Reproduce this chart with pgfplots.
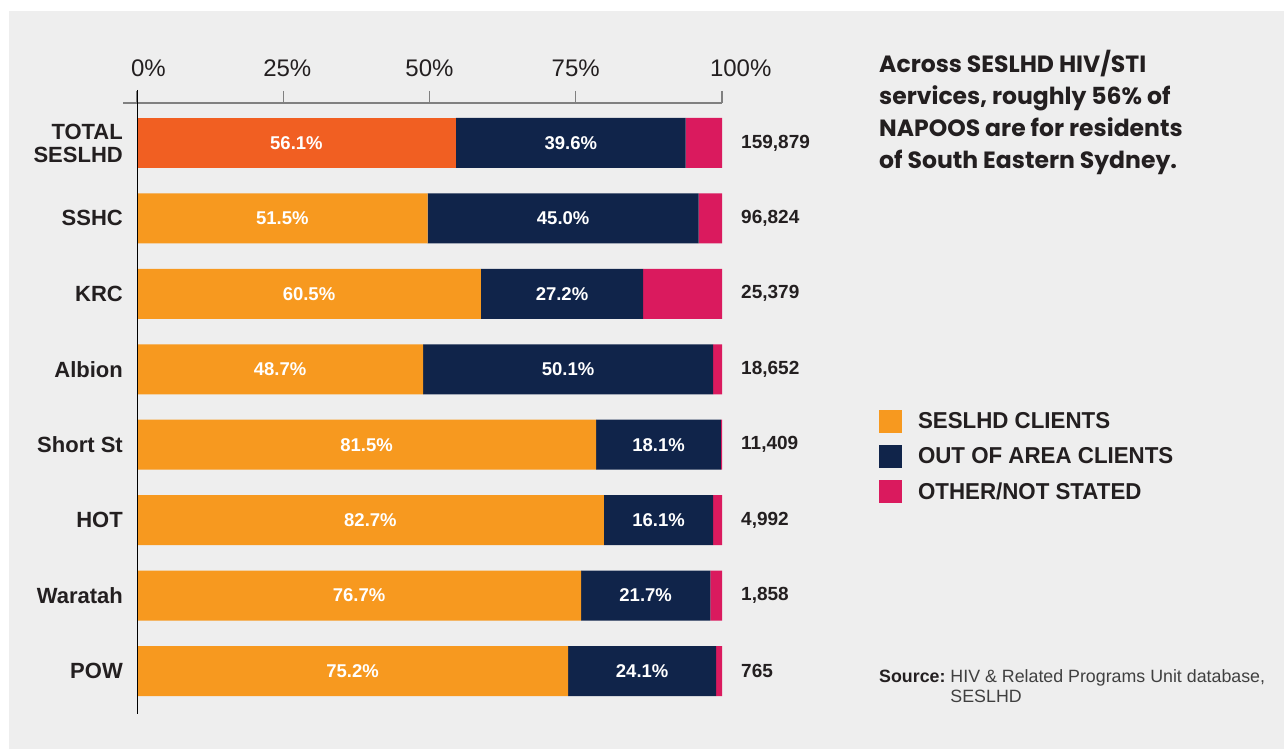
\documentclass[border=0pt]{standalone}
\usepackage{fontspec}
\setmainfont{Liberation Sans}
\newfontfamily\catfont{Liberation Sans}
\newfontfamily\legfont{Liberation Sans}[FakeStretch=0.97]
\newfontfamily\titlefont{Poppins}
\usepackage{pgfplots}
\usepackage{pgfplotstable}
\pgfplotsset{compat=1.18}
\definecolor{bg}{HTML}{EEEEEE}
\definecolor{orng}{HTML}{F7991F}
\definecolor{orred}{HTML}{F15F22}
\definecolor{navy}{HTML}{10244A}
\definecolor{pnk}{HTML}{DA1A5E}
\definecolor{txt}{HTML}{231F20}
\definecolor{axgray}{HTML}{808080}
\definecolor{srcgray}{HTML}{404040}

% y: 7 = TOTAL SESLHD ... 0 = POW ; a0/a/b/c = drawn segment lengths (%), la/lb = printed labels, n = count
\pgfplotstableread{
y a0 a b c la lb n
7 54.5 0 39.3 6.2 56.1 39.6 159,879
6 0 49.7 46.3 4.0 51.5 45.0 96,824
5 0 58.8 27.7 13.5 60.5 27.2 25,379
4 0 48.9 49.6 1.5 48.7 50.1 18,652
3 0 78.5 21.3 0.2 81.5 18.1 11,409
2 0 79.8 18.7 1.5 82.7 16.1 4,992
1 0 75.9 22.1 2.0 76.7 21.7 1,858
0 0 73.7 25.3 1.0 75.2 24.1 765
}\data

\pgfplotsset{
  sq legend/.style={legend image code/.code={\fill[##1] (0pt,-11.5pt) rectangle (23pt,11.5pt); \path (39pt,0pt);}},
  common/.style={at={(137pt,35pt)}, anchor=south west, scale only axis,
    width=585pt, height=611pt, xmin=0, xmax=100, ymin=-0.570, ymax=7.530},
  barlbl/.style={draw=none, mark=none, nodes near coords={\pgfplotspointmeta\%},
    point meta=explicit symbolic, nodes near coords align={anchor=center},
    every node near coord/.append style={anchor=center, inner sep=0pt, text=white,
      font=\bfseries\fontsize{18.5}{20}\selectfont}},
}

\begin{document}
\begin{tikzpicture}
\path[use as bounding box] (0pt,0pt) rectangle (1284pt,749pt);
\fill[white] (0pt,0pt) rectangle (1284pt,749pt);
\fill[bg] (9pt,0pt) rectangle (1284pt,738pt);

\begin{axis}[common,
  xbar stacked, bar width=50pt,
  axis x line*=top, axis y line*=left,
  x axis line style={draw=none}, y axis line style={draw=none},
  tick align=outside, major tick length=12pt,
  xtick={0,25,50,75,100},
  xticklabels={\makebox[0pt][l]{\hspace{-6pt}0\%},\makebox[0pt][l]{\hspace{-20pt}25\%},50\%,75\%,\makebox[0pt][l]{\hspace{-12pt}100\%}},
  x tick style={draw=axgray, line width=1.3pt},
  xticklabel style={font=\fontsize{24}{26}\selectfont, text=txt, inner sep=0pt, yshift=14pt},
  ytick={0,1,2,3,4,5,6,7},
  yticklabels={POW,Waratah,HOT,Short St,Albion,KRC,SSHC,{TOTAL\\[-2pt]SESLHD}},
  y tick style={draw=none},
  yticklabel style={align=right, font=\catfont\bfseries\fontsize{22}{25}\selectfont, text=txt, inner sep=0pt, xshift=-2pt},
  legend style={draw=none, fill=none, inner sep=0pt, outer sep=0pt,
    at={(axis description cs:1.2684,0.4975)}, anchor=north west,
    row sep=12pt, column sep=0pt,
    font=\legfont\bfseries\fontsize{23}{25}\selectfont, text=txt,
    nodes={inner sep=0pt}},
  legend cell align=left,
]
\addplot[fill=orred, draw=none, forget plot] table[x=a0, y=y]{\data};
\addplot[fill=orng, draw=none, sq legend] table[x=a, y=y]{\data};
\addplot[fill=navy, draw=none, sq legend] table[x=b, y=y]{\data};
\addplot[fill=pnk, draw=none, sq legend] table[x=c, y=y]{\data};
\legend{SESLHD CLIENTS, OUT OF AREA CLIENTS, OTHER/NOT STATED}
\end{axis}

\begin{axis}[common, hide axis]
\addplot[barlbl] table[x expr={(\thisrow{a0}+\thisrow{a})/2}, y=y, meta=la]{\data};
\addplot[barlbl] table[x expr={\thisrow{a0}+\thisrow{a}+\thisrow{b}/2}, y=y, meta=lb]{\data};
\addplot[draw=none, mark=none, nodes near coords, point meta=explicit symbolic,
  nodes near coords align={anchor=west},
  every node near coord/.append style={anchor=west, xshift=19pt, inner sep=0pt,
    font=\bfseries\fontsize{19}{21}\selectfont, text=txt}]
  table[x expr={\thisrow{a0}+\thisrow{a}+\thisrow{b}+\thisrow{c}}, y=y, meta=n]{\data};
\end{axis}

\draw[axgray, line width=1.7pt] (123pt,646pt) -- (722pt,646pt);
\draw[black, line width=1pt] (137.3pt,659pt) -- (137.3pt,35pt);

\node[anchor=north west, inner sep=0pt, align=left, text=txt,
  font=\titlefont\bfseries\fontsize{23.5}{32}\selectfont] at (879pt,699pt)
  {Across SESLHD HIV/STI\\services, roughly 56\% of\\NAPOOS are for residents\\of South Eastern Sydney.};

\node[anchor=base west, inner sep=0pt, text=srcgray, font=\fontsize{17.8}{20}\selectfont] at (879pt,66pt)
  {\begin{tabular}[t]{@{}l@{\hspace{5pt}}l@{}}\textcolor{txt}{\bfseries Source:} & HIV \& Related Programs Unit database,\\ & SESLHD\end{tabular}};
\end{tikzpicture}
\end{document}
